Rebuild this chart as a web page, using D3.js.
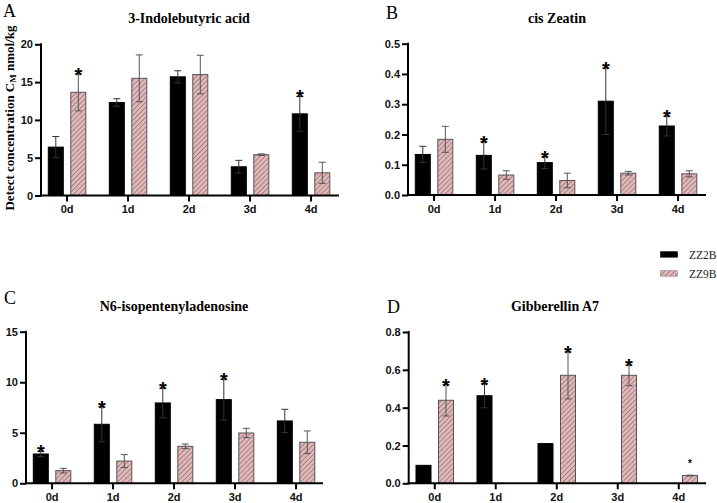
<!DOCTYPE html>
<html><head><meta charset="utf-8">
<script src="https://cdn.jsdelivr.net/npm/d3@7"></script>
<style>
body{margin:0;background:#fff;}
svg{display:block;}
.tick text{font-family:"Liberation Sans",Arial,sans-serif;font-weight:bold;font-size:11px;fill:#111;}
</style></head>
<body>
<svg id="c" width="717" height="503"></svg>
<script>
const days = ["0d","1d","2d","3d","4d"];
const seriesNames = ["ZZ2B","ZZ9B"];

// Panel A: 3-Indolebutyric acid
const A_ZZ2B = [6.4, 12.3, 15.7, 3.8, 10.8];
const A_ZZ2B_err = [1.4, 0.5, 0.8, 0.85, 2.3];
const A_ZZ9B = [13.65, 15.5, 16.0, 5.4, 3.0];
const A_ZZ9B_err = [2.45, 3.1, 2.55, 0.1, 1.4];
const A_star2B = [0,0,0,0,1];
const A_star9B = [1,0,0,0,0];
const A_ticks = [0,5,10,15,20];

// Panel B: cis Zeatin
const B_ZZ2B = [0.134, 0.131, 0.107, 0.31, 0.228];
const B_ZZ2B_err = [0.027, 0.045, 0.02, 0.11, 0.033];
const B_ZZ9B = [0.184, 0.066, 0.048, 0.072, 0.070];
const B_ZZ9B_err = [0.043, 0.014, 0.024, 0.006, 0.010];
const B_star2B = [0,1,1,1,1];
const B_star9B = [0,0,0,0,0];
const B_ticks = [0,0.1,0.2,0.3,0.4,0.5];

// Panel C: N6-isopentenyladenosine
const C_ZZ2B = [2.9, 5.84, 7.95, 8.28, 6.17];
const C_ZZ2B_err = [0.27, 1.74, 1.48, 2.01, 1.15];
const C_ZZ9B = [1.25, 2.2, 3.66, 4.98, 4.06];
const C_ZZ9B_err = [0.23, 0.64, 0.23, 0.46, 1.12];
const C_star2B = [1,1,1,1,0];
const C_star9B = [0,0,0,0,0];
const C_ticks = [0,5,10,15];

// Panel D: Gibberellin A7
const D_ZZ2B = [0.095, 0.463, 0.21, 0, 0];
const D_ZZ2B_err = [0, 0.064, 0, 0, 0];
const D_ZZ9B = [0.439, 0, 0.571, 0.571, 0.041];
const D_ZZ9B_err = [0.083, 0, 0.125, 0.055, 0.002];
const D_star2B = [0,1,0,0,0];
const D_star9B = [1,0,1,1,2]; // 2 = small star
const D_ticks = [0,0.2,0.4,0.6,0.8];

const svg = d3.select("#c");
const defs = svg.append("defs");
const pat = defs.append("pattern").attr("id","hatch").attr("patternUnits","userSpaceOnUse")
  .attr("width",3.5).attr("height",3.5).attr("patternTransform","rotate(45)");
pat.append("rect").attr("width",3.5).attr("height",3.5).attr("fill","#e4b6b8");
pat.append("line").attr("x1",0).attr("y1",0).attr("x2",0).attr("y2",3.5)
  .attr("stroke","#7a7072").attr("stroke-width",1.3);

const serif = '"Liberation Serif","Times New Roman",serif';

function panel(cfg){
  const g = svg.append("g");
  const y = d3.scaleLinear().domain([0,cfg.max]).range([cfg.y0,cfg.yTop]);
  const step = 61;
  const x0 = d3.scaleBand().domain(days).range([cfg.left-4.45, cfg.left-4.45+step*days.length]).padding(0);
  const x1 = d3.scaleBand().domain(seriesNames).range([11.75, step-11.75]).paddingInner(1/3);

  const ya = d3.axisLeft(y).tickValues(cfg.ticks).tickFormat(cfg.fmt).tickSize(6).tickSizeOuter(0).tickPadding(2);
  const yg = g.append("g").attr("transform",`translate(${cfg.left},0)`).call(ya);
  yg.select(".domain").remove();
  yg.selectAll(".tick line").attr("stroke","#000").attr("stroke-width",2);
  const xa = d3.axisBottom(x0).tickSize(6).tickSizeOuter(0).tickPadding(4);
  const xg = g.append("g").attr("transform",`translate(0,${cfg.y0})`).call(xa);
  xg.select(".domain").remove();
  xg.selectAll(".tick line").attr("stroke","#000").attr("stroke-width",2);

  const series = [
    {name:"ZZ2B", v:cfg.s1, e:cfg.e1, st:cfg.st1},
    {name:"ZZ9B", v:cfg.s2, e:cfg.e2, st:cfg.st2}
  ];
  series.forEach(s=>{
    const data = days.map((d,i)=>({d, v:s.v[i], e:s.e[i], st:s.st[i]}));
    const bx = d=> x0(d.d)+x1(s.name);
    const bw = x1.bandwidth();
    g.selectAll(null).data(data.filter(d=>d.v>0)).enter().append("rect")
      .attr("x",bx).attr("width",bw)
      .attr("y",d=>y(d.v)).attr("height",d=>cfg.y0-y(d.v))
      .attr("fill", s.name==="ZZ2B" ? "#000" : "url(#hatch)")
      .attr("stroke", s.name==="ZZ2B" ? "#000" : "#5a5355")
      .attr("stroke-width",1);
    const eb = data.filter(d=>d.e>0);
    const eg = g.selectAll(null).data(eb).enter().append("g")
      .attr("stroke", s.name==="ZZ2B" ? "#333" : "#555").attr("stroke-width",1);
    eg.append("line").attr("x1",d=>bx(d)+bw/2).attr("x2",d=>bx(d)+bw/2)
      .attr("y1",d=>y(d.v-d.e)).attr("y2",d=>y(d.v+d.e));
    eg.append("line").attr("x1",d=>bx(d)+bw/2-3.5).attr("x2",d=>bx(d)+bw/2+3.5)
      .attr("y1",d=>y(d.v+d.e)).attr("y2",d=>y(d.v+d.e));
    eg.append("line").attr("x1",d=>bx(d)+bw/2-3.5).attr("x2",d=>bx(d)+bw/2+3.5)
      .attr("y1",d=>y(d.v-d.e)).attr("y2",d=>y(d.v-d.e));
    g.selectAll(null).data(data.filter(d=>d.st)).enter().append("text")
      .attr("x",d=>bx(d)+bw/2)
      .attr("y",d=> d.st===2 ? y(d.v+d.e)-8 : y(d.v+d.e)+8)
      .attr("text-anchor","middle")
      .style("font-family",'"Liberation Sans",Arial,sans-serif')
      .style("font-weight","bold")
      .style("font-size",d=> d.st===2 ? "10px" : "20px")
      .text("*");
  });

  g.append("line").attr("x1",cfg.left).attr("x2",cfg.left).attr("y1",cfg.y0+1).attr("y2",cfg.yTop-1)
    .attr("stroke","#000").attr("stroke-width",2);
  g.append("line").attr("x1",cfg.left-1).attr("x2",cfg.right).attr("y1",cfg.y0).attr("y2",cfg.y0)
    .attr("stroke","#000").attr("stroke-width",2);

  g.append("text").attr("x",cfg.titleX).attr("y",cfg.titleY).attr("text-anchor","middle")
    .style("font-family",serif).style("font-weight","bold").style("font-size","14px").text(cfg.title);
  g.append("text").attr("x",cfg.letterX).attr("y",cfg.letterY)
    .style("font-family",serif).style("font-size","18px").text(cfg.letter);
}

const f0 = d3.format("d"), f1 = d3.format(".1f");
panel({left:41,right:339,y0:195.5,yTop:44.3,max:20,ticks:A_ticks,fmt:f0,
  title:"3-Indolebutyric acid",titleX:189,titleY:23,letter:"A",letterX:3,letterY:17,
  s1:A_ZZ2B,e1:A_ZZ2B_err,s2:A_ZZ9B,e2:A_ZZ9B_err,st1:A_star2B,st2:A_star9B});
panel({left:408,right:706,y0:195,yTop:43.7,max:0.5,ticks:B_ticks,fmt:f1,
  title:"cis Zeatin",titleX:557,titleY:23,letter:"B",letterX:386,letterY:19,
  s1:B_ZZ2B,e1:B_ZZ2B_err,s2:B_ZZ9B,e2:B_ZZ9B_err,st1:B_star2B,st2:B_star9B});
panel({left:26,right:323,y0:483.3,yTop:331.7,max:15,ticks:C_ticks,fmt:f0,
  title:"N6-isopentenyladenosine",titleX:174,titleY:311,letter:"C",letterX:4,letterY:304,
  s1:C_ZZ2B,e1:C_ZZ2B_err,s2:C_ZZ9B,e2:C_ZZ9B_err,st1:C_star2B,st2:C_star9B});
panel({left:408.7,right:706,y0:483.3,yTop:332,max:0.8,ticks:D_ticks,fmt:f1,
  title:"Gibberellin A7",titleX:555,titleY:311,letter:"D",letterX:387,letterY:313,
  s1:D_ZZ2B,e1:D_ZZ2B_err,s2:D_ZZ9B,e2:D_ZZ9B_err,st1:D_star2B,st2:D_star9B});

const yl = svg.append("text").attr("transform","translate(14,118) rotate(-90)").attr("text-anchor","middle")
  .style("font-family",serif).style("font-weight","bold").style("font-size","13px");
yl.append("tspan").text("Detect concentration C");
yl.append("tspan").attr("font-size","9px").attr("dy",2).text("M");
yl.append("tspan").attr("dy",-2).text(" nmol/kg");

const leg = svg.append("g");
seriesNames.forEach((n,i)=>{
  leg.append("rect").attr("x",660.5).attr("y",251.7+i*19).attr("width",17).attr("height",5.5)
    .attr("fill", i===0 ? "#000" : "url(#hatch)").attr("stroke", i===0 ? "#000" : "#8a8082").attr("stroke-width",0.6);
  leg.append("text").attr("x",689).attr("y",259+i*19)
    .style("font-family",serif).style("font-size","11.5px").style("fill","#222").text(n);
});
</script>
</body></html>
